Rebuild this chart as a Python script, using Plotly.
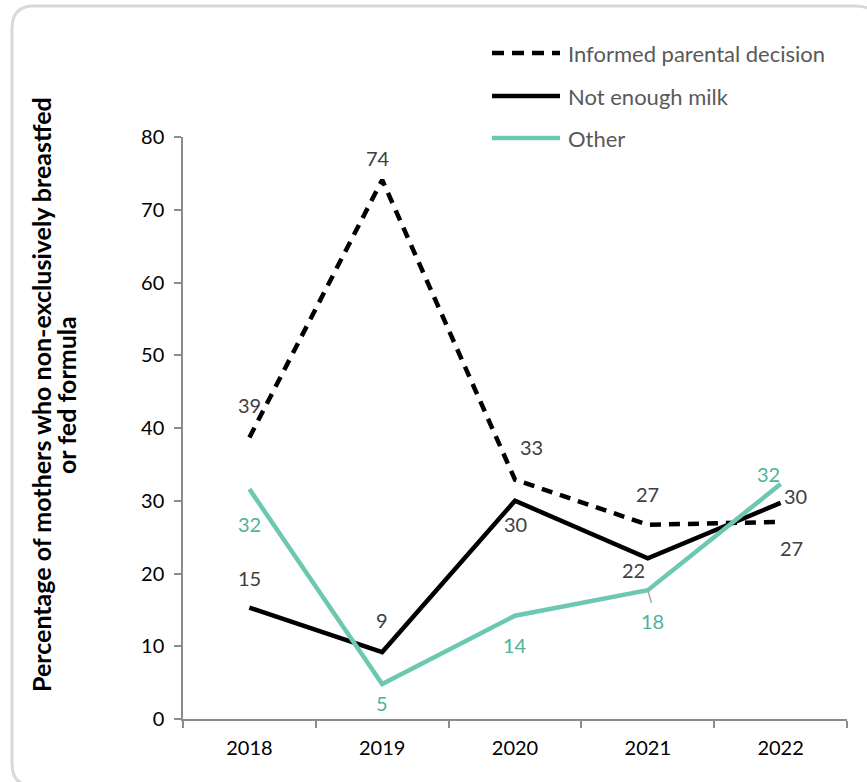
import plotly.graph_objects as go

years = ["2018", "2019", "2020", "2021", "2022"]
informed = [38.7, 74.1, 32.9, 26.7, 27.1]
not_enough = [15.3, 9.2, 30.0, 22.1, 29.7]
other = [31.6, 4.8, 14.2, 17.7, 32.3]
y_ticks = [0, 10, 20, 30, 40, 50, 60, 70, 80]

series_names = ["Informed parental decision", "Not enough milk", "Other"]
title_lines = ["Percentage of mothers who non-exclusively breastfed", "or fed formula"]

W, H = 867, 782
L, R, T, B = 183, 20, 137, 63
PW, PH = W - L - R, H - T - B

def px(x):
    return (x - L) / PW

def py(y):
    return (H - B - y) / PH

BLACK = "#000000"
TEAL = "#6DC8B2"
TEAL_TXT = "#4DB39B"
GRAY_TXT = "#404040"
FONT = "Lato"

fig = go.Figure()
fig.add_trace(go.Scatter(x=years, y=informed, mode="lines", name=series_names[0],
                         line=dict(color=BLACK, width=4.5, dash="11px,8px"), showlegend=False,
                         hoverinfo="skip"))
fig.add_trace(go.Scatter(x=years, y=not_enough, mode="lines", name=series_names[1],
                         line=dict(color=BLACK, width=4.5), showlegend=False, hoverinfo="skip"))
fig.add_trace(go.Scatter(x=years, y=other, mode="lines", name=series_names[2],
                         line=dict(color=TEAL, width=4.5), showlegend=False, hoverinfo="skip"))

# data label offsets (pixels)
offs_informed = [(0, -32), (-4, -22), (16, -33), (0, -31), (11, 26)]
offs_not = [(0, -30), (0, -32), (0, 23), (-14, 12), (15, -7)]
offs_other = [(0, 35), (0, 19), (0, 29), (5, 31), (-12, -10)]

annotations = []
for vals, offs, col in [(informed, offs_informed, GRAY_TXT),
                        (not_enough, offs_not, GRAY_TXT),
                        (other, offs_other, TEAL_TXT)]:
    for i, (v, (dx, dy)) in enumerate(zip(vals, offs)):
        annotations.append(dict(x=i, y=v, xref="x", yref="y", text=str(round(v)),
                                showarrow=False, xshift=dx, yshift=-dy,
                                font=dict(family=FONT, size=20, color=col)))

# leader line for Other 2021
annotations.append(dict(x=3, y=other[3], xref="x", yref="y", ax=4, ay=14,
                        text="", showarrow=True,
                        arrowhead=0, arrowwidth=1.5, arrowcolor="#A6A6A6", standoff=0))

# y-axis title (two lines)
for line_txt, cx in zip(title_lines, [41, 66]):
    annotations.append(dict(x=px(cx), y=py(395), xref="paper", yref="paper",
                            text=f"<b>{line_txt}</b>", textangle=-90, showarrow=False,
                            xanchor="center", yanchor="middle",
                            font=dict(family=FONT, size=25, color="#000000")))

shapes = []
# manual legend
legend_rows = [(53, dict(color=BLACK, width=4.5, dash="12px,8px")),
               (96, dict(color=BLACK, width=4.5)),
               (138, dict(color=TEAL, width=4.5))]
for (ly, ln), name in zip(legend_rows, series_names):
    shapes.append(dict(type="line", xref="paper", yref="paper",
                       x0=px(492), x1=px(560), y0=py(ly), y1=py(ly), line=ln))
    annotations.append(dict(x=px(566), y=py(ly), xref="paper", yref="paper", text=name,
                            showarrow=False, xanchor="left", yanchor="middle",
                            font=dict(family=FONT, size=22, color="#595959")))

# outer rounded border
x0, y0, x1, y1, r = 12, 6, 878, 786, 22
path = (f"M {px(x0+r)},{py(y0)} L {px(x1-r)},{py(y0)} "
        f"Q {px(x1)},{py(y0)} {px(x1)},{py(y0+r)} L {px(x1)},{py(y1-r)} "
        f"Q {px(x1)},{py(y1)} {px(x1-r)},{py(y1)} L {px(x0+r)},{py(y1)} "
        f"Q {px(x0)},{py(y1)} {px(x0)},{py(y1-r)} L {px(x0)},{py(y0+r)} "
        f"Q {px(x0)},{py(y0)} {px(x0+r)},{py(y0)} Z")
shapes.append(dict(type="path", xref="paper", yref="paper", path=path,
                   line=dict(color="#D9D9D9", width=3), layer="below"))

fig.update_layout(
    width=W, height=H,
    margin=dict(l=L, r=R, t=T, b=B, pad=0),
    paper_bgcolor="white", plot_bgcolor="white",
    font=dict(family=FONT, size=19, color="#000000"),
    showlegend=False,
    annotations=annotations,
    shapes=shapes,
    xaxis=dict(type="category", showgrid=False, zeroline=False,
               showline=True, linecolor="#8C8C8C", linewidth=1.5,
               ticks="outside", tickson="boundaries", ticklen=7, tickcolor="#8C8C8C",
               tickwidth=1.5, range=[-0.5, 4.5], ticklabelstandoff=10,
               tickfont=dict(family=FONT, size=20, color="#000000")),
    yaxis=dict(range=[0, 80], tickvals=y_ticks, showgrid=False, zeroline=False,
               showline=True, linecolor="#8C8C8C", linewidth=1.5,
               ticks="outside", ticklen=7, tickcolor="#8C8C8C", tickwidth=1.5,
               ticklabelstandoff=6,
               tickfont=dict(family=FONT, size=20, color="#000000")),
)

fig.write_html("out.html")
